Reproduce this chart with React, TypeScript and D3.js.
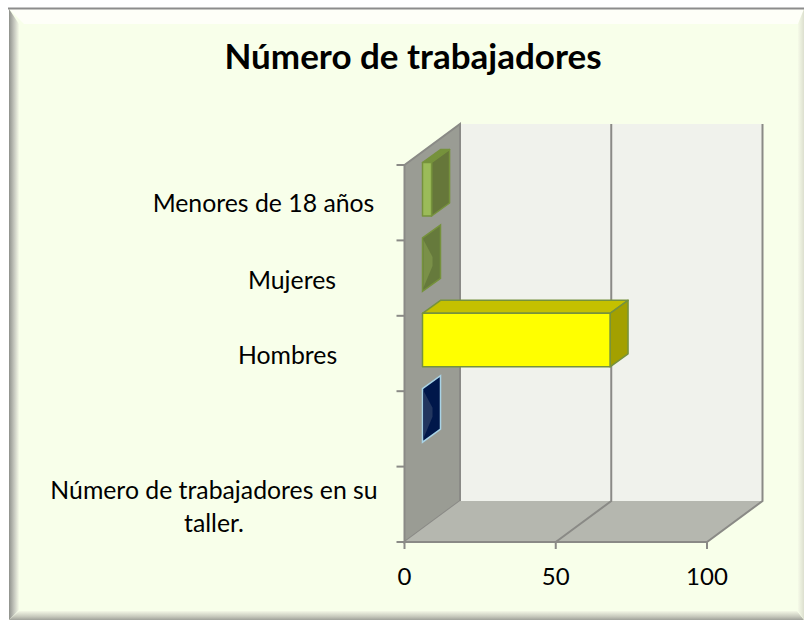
import React from "react";
import * as d3 from "d3";

const categories = ["Menores de 18 años", "Mujeres", "Hombres", "", "Número de trabajadores en su taller."];
const labelLines = [["Menores de 18 años"], ["Mujeres"], ["Hombres"], [], ["Número de trabajadores en su", "taller."]];
const values = [3, 0, 62, 0, null];
const faceColors = ["#9bbb59", "#76923c", "#ffff00", "#002060", null];
const topColors = ["#76923c", "#7a9048", "#c4c000", "#22365f", null];
const sideColors = ["#66773a", "#667a3c", "#a3a000", "#00174a", null];
const strokeColors = ["#76923c", "#76923c", "#76923c", "#a9d3e6", null];
const xTicks = [0, 50, 100];
const title = "Número de trabajadores";

const W = 804, H = 622;
const x = d3.scaleLinear().domain([0, 100]).range([404.5, 707]);
const y = d3.scaleBand<number>().domain(d3.range(categories.length)).range([165, 542]).paddingInner(0).paddingOuter(0);
const DX = 55.5, DY = -41;
const BDX = 18, BDY = -13;
const barInset = 18;
const barH = 53.5;
const barTopOffset = -2.5;

const poly = (p: [number, number][]) => d3.line()(p)! + "Z";
const open = (p: [number, number][]) => d3.line()(p)!;
const FONT = "Lato, 'Open Sans', sans-serif";
const AX = "#8a8a86";

export default function App() {
  const x0 = x(0), yT = y.range()[0], yB = y.range()[1];
  return (
    <svg width={W} height={H} style={{ position: "absolute", left: 0, top: 0 }} fontFamily={FONT}>
      <defs>
        <linearGradient id="lb" x1="0" x2="1" y1="0" y2="0">
          <stop offset="0" stopColor="#8f918c" />
          <stop offset="0.5" stopColor="#c4c6bd" />
          <stop offset="1" stopColor="#f6fbe8" />
        </linearGradient>
        <linearGradient id="bb" x1="0" x2="0" y1="0" y2="1">
          <stop offset="0" stopColor="#f4f8e6" />
          <stop offset="0.6" stopColor="#c8cabd" />
          <stop offset="1" stopColor="#a0a29a" />
        </linearGradient>
        <linearGradient id="rb" x1="0" x2="1" y1="0" y2="0">
          <stop offset="0" stopColor="#f6fbe8" />
          <stop offset="1" stopColor="#dcdfcf" />
        </linearGradient>
      </defs>

      <rect x={0} y={0} width={W} height={H} fill="#ffffff" />
      <rect x={9} y={8} width={795} height={612} fill="#f8ffea" />
      <path d={poly([[9, 9], [804, 9], [798, 24], [24, 24]])} fill="#fefff8" />
      <path d={poly([[9, 9], [19, 24], [19, 610], [9, 620]])} fill="url(#lb)" />
      <path d={poly([[9, 620], [19, 611], [797, 611], [804, 620]])} fill="url(#bb)" />
      <path d={poly([[798, 24], [804, 9], [804, 620], [798, 611]])} fill="url(#rb)" />
      <line x1={8} x2={804} y1={8.5} y2={8.5} stroke="#8c8c8c" strokeWidth={2} />

      <text x={413} y={68.5} textAnchor="middle" fontSize={35} fontWeight={700} fill="#000">{title}</text>

      {/* back wall */}
      <path d={poly([[x0 + DX, yT + DY], [x(100) + DX, yT + DY], [x(100) + DX, yB + DY], [x0 + DX, yB + DY]])} fill="#f0f2ec" />
      {/* left wall */}
      <path d={poly([[x0, yT], [x0 + DX, yT + DY], [x0 + DX, yB + DY], [x0, yB]])} fill="#9a9c94" stroke={AX} strokeWidth={2} />
      {/* floor */}
      <path d={poly([[x0, yB], [x0 + DX, yB + DY], [x(100) + DX, yB + DY], [x(100), yB]])} fill="#b5b7af" />
      <path d={open([[x0, yB], [x(100), yB], [x(100) + DX, yB + DY], [x(100) + DX, yT + DY]])} fill="none" stroke={AX} strokeWidth={2} />

      {/* grid */}
      <path d={open([[x(50), yB], [x(50) + DX, yB + DY], [x(50) + DX, yT + DY]])} fill="none" stroke={AX} strokeWidth={2} />

      {/* axis ticks */}
      {d3.range(categories.length + 1).map((i) => {
        const ty = yT + i * y.step();
        return <line key={i} x1={x0 - 8} x2={x0} y1={ty} y2={ty} stroke={AX} strokeWidth={2} />;
      })}
      {xTicks.map((t) => (
        <g key={t}>
          <line x1={x(t)} x2={x(t)} y1={yB} y2={yB + 7} stroke={AX} strokeWidth={2} />
          <text x={x(t)} y={585} textAnchor="middle" fontSize={24} fill="#000">{t}</text>
        </g>
      ))}

      {/* bars */}
      {categories.map((c, i) => {
        const v = values[i];
        if (v === null) return null;
        const left = x0 + barInset;
        const right = left + (x(v) - x0);
        const top = y(i)! + barTopOffset;
        const bot = top + barH;
        const stroke = strokeColors[i]!;
        if (v === 0) {
          const mx = left + 10;
          return (
            <g key={i}>
              <path d={poly([[left, top], [left + BDX, top + BDY], [left + BDX, bot + BDY], [left, bot]])} fill={sideColors[i]!} stroke={stroke} strokeWidth={1.5} />
              <path d={poly([[left + 1, top + 2], [mx, top + 19], [mx, top + 28], [left + 1, bot - 4]])} fill={topColors[i]!} />
            </g>
          );
        }
        return (
          <g key={i} stroke={stroke} strokeWidth={1.5} strokeLinejoin="round">
            <path d={poly([[left, top], [left + BDX, top + BDY], [right + BDX, top + BDY], [right, top]])} fill={topColors[i]!} />
            <path d={poly([[right, top], [right + BDX, top + BDY], [right + BDX, bot + BDY], [right, bot]])} fill={sideColors[i]!} />
            <rect x={left} y={top} width={right - left} height={barH} fill={faceColors[i]!} />
          </g>
        );
      })}

      {/* category labels */}
      {labelLines.map((lines, i) =>
        lines.map((l, k) => {
          const cx = i === 4 ? 214 : i === 0 ? 263.5 : i === 1 ? 292 : 287.5;
          const base = i === 4 ? 499 : i === 0 ? y(i)! + 47 : y(i)! + 48.5;
          return <text key={i + "-" + k} x={cx} y={base + k * 33} textAnchor="middle" fontSize={24.8} fill="#000">{l}</text>;
        })
      )}
    </svg>
  );
}
